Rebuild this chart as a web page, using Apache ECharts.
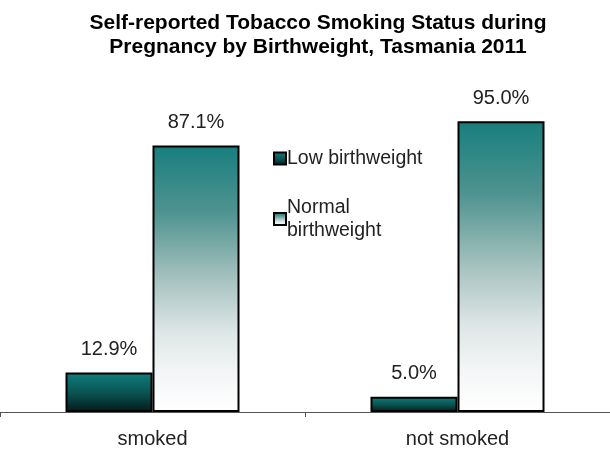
<!DOCTYPE html>
<html>
<head>
<meta charset="utf-8">
<script src="https://cdn.jsdelivr.net/npm/echarts@6/dist/echarts.min.js"></script>
<style>html,body{margin:0;padding:0;background:#fff}#c{width:610px;height:450px}</style>
</head>
<body>
<div id="c"></div>
<script>
// Smoking status during pregnancy, by birthweight group (percent)
var categories = ['smoked', 'not smoked'];
var lowBirthweight = [12.9, 5.0];
var normalBirthweight = [87.1, 95.0];
var seriesNames = ['Low birthweight', 'Normal birthweight'];

var font = '"Liberation Sans", Arial, sans-serif';

var lowFill = new echarts.graphic.LinearGradient(0, 0, 0, 1, [
  { offset: 0, color: '#0f7f7c' },
  { offset: 0.5, color: '#0a5553' },
  { offset: 1, color: '#041a1a' }
]);
var normalFill = new echarts.graphic.LinearGradient(0, 0, 0, 1, [
  { offset: 0, color: '#177f7d' },
  { offset: 0.25, color: '#4f9390' },
  { offset: 0.5, color: '#a6c2bf' },
  { offset: 0.7, color: '#dde6e6' },
  { offset: 0.85, color: '#f3f5f6' },
  { offset: 1, color: '#ffffff' }
]);

function pct(p) { return p.value.toFixed(1) + '%'; }

var chart = echarts.init(document.getElementById('c'), null, { renderer: 'canvas' });
chart.setOption({
  backgroundColor: '#fff',
  animation: false,
  title: {
    text: 'Self-reported Tobacco Smoking Status during\nPregnancy by Birthweight, Tasmania 2011',
    left: 318,
    textAlign: 'center',
    top: 11,
    padding: 0,
    textStyle: { fontFamily: font, fontWeight: 'bold', fontSize: 21, lineHeight: 24, color: '#000' }
  },
  legend: {
    orient: 'vertical',
    left: 268,
    top: 142,
    itemWidth: 12,
    itemHeight: 12,
    itemGap: 26,
    icon: 'rect',
    data: seriesNames,
    formatter: function (name) { return name === 'Normal birthweight' ? 'Normal\nbirthweight' : name; },
    textStyle: { fontFamily: font, fontSize: 19.5, color: '#222', lineHeight: 23, padding: [0, 0, 0, -4] }
  },
  grid: { left: 0, right: 0, top: 106, bottom: 38, containLabel: false },
  xAxis: {
    type: 'category',
    data: categories,
    axisLine: { lineStyle: { color: '#555', width: 1 } },
    axisTick: { show: true, length: 5, lineStyle: { color: '#555' } },
    axisLabel: { fontFamily: font, fontSize: 20, color: '#222', margin: 17 }
  },
  yAxis: {
    type: 'value',
    min: 0,
    max: 100,
    show: false,
    splitLine: { show: false }
  },
  series: [
    {
      name: seriesNames[0],
      type: 'bar',
      data: lowBirthweight,
      barWidth: 87,
      barGap: '0%',
      itemStyle: { color: lowFill, borderColor: '#000', borderWidth: 2 },
      label: {
        show: true, position: 'top', distance: 13, formatter: pct,
        fontFamily: font, fontSize: 20, color: '#222'
      }
    },
    {
      name: seriesNames[1],
      type: 'bar',
      data: normalBirthweight,
      barWidth: 87,
      barGap: '0%',
      itemStyle: { color: normalFill, borderColor: '#000', borderWidth: 2 },
      label: {
        show: true, position: 'top', distance: 13, formatter: pct,
        fontFamily: font, fontSize: 20, color: '#222'
      }
    }
  ]
});
</script>
</body>
</html>
